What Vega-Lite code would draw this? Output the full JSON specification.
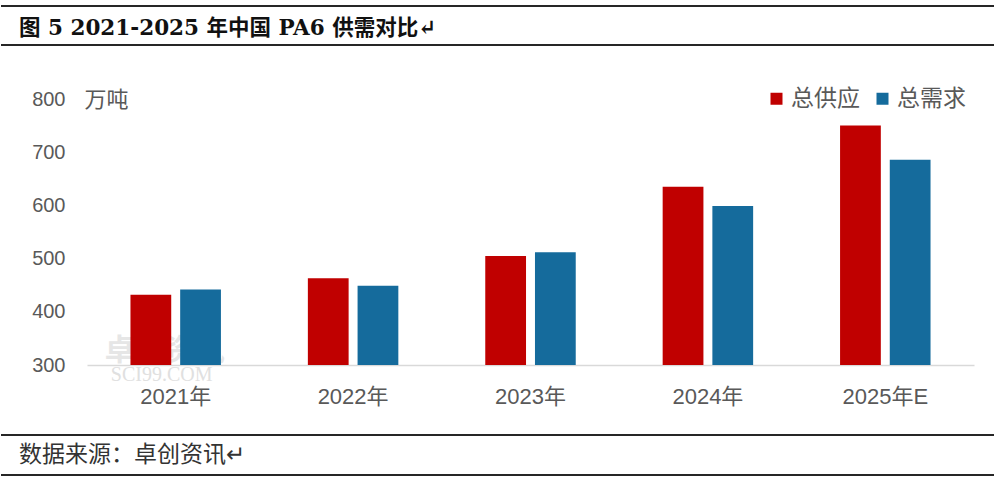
{
  "$schema": "https://vega.github.io/schema/vega-lite/v6.json",
  "padding": {"top": 5, "left": 0, "right": 0, "bottom": 0},
  "spacing": 27,
  "bounds": "full",
  "resolve": {"legend": {"color": "independent"}, "scale": {"color": "independent"}},
  "config": {"view": {"stroke": null}, "font": "Liberation Sans, Noto Sans CJK SC"},
  "vconcat": [
    {
      "width": 907,
      "height": 54,
      "data": {"values": [{}]},
      "layer": [
        {
          "mark": {"type": "rule", "color": "#262626", "strokeWidth": 2},
          "encoding": {
            "x": {"datum": 0, "type": "quantitative", "scale": {"domain": [0, 1], "range": [-86, 907]}, "axis": null},
            "x2": {"datum": 1},
            "y": {"datum": 1, "type": "quantitative", "scale": {"domain": [0, 1]}, "axis": null}
          }
        },
        {
          "mark": {"type": "rule", "color": "#262626", "strokeWidth": 2},
          "encoding": {
            "x": {"datum": 0, "type": "quantitative"},
            "x2": {"datum": 1},
            "y": {"datum": 0.28, "type": "quantitative"}
          }
        },
        {
          "mark": {"type": "text", "align": "left", "baseline": "middle", "dx": 18, "fontSize": 21.5, "fontWeight": "bold", "font": "DejaVu Serif, Noto Sans CJK SC", "color": "#111111"},
          "encoding": {
            "x": {"datum": 0, "type": "quantitative"},
            "y": {"datum": 0.57, "type": "quantitative"},
            "text": {"value": "图 5 2021-2025 年中国 PA6 供需对比↵"}
          }
        }
      ]
    },
    {
      "width": 887,
      "height": 266,
      "layer": [
        {
          "data": {"values": [{}]},
          "mark": {"type": "text", "fontSize": 30, "color": "#e6e6e6", "font": "Noto Sans CJK SC", "fontWeight": "bold", "dx": -11},
          "encoding": {
            "x": {"datum": "2021年", "type": "nominal"},
            "y": {"datum": 326, "type": "quantitative"},
            "text": {"value": "卓创资讯"}
          }
        },
        {
          "data": {"values": [{}]},
          "mark": {"type": "text", "fontSize": 20, "color": "#e0e0e0", "font": "Liberation Serif", "dx": -14},
          "encoding": {
            "x": {"datum": "2021年", "type": "nominal"},
            "y": {"datum": 281, "type": "quantitative"},
            "text": {"value": "SCI99.COM"}
          }
        },
        {
          "data": {"values": [
            {"year": "2021年", "series": "总供应", "value": 432},
            {"year": "2021年", "series": "总需求", "value": 442},
            {"year": "2022年", "series": "总供应", "value": 463},
            {"year": "2022年", "series": "总需求", "value": 449},
            {"year": "2023年", "series": "总供应", "value": 505},
            {"year": "2023年", "series": "总需求", "value": 512},
            {"year": "2024年", "series": "总供应", "value": 635},
            {"year": "2024年", "series": "总需求", "value": 599},
            {"year": "2025年E", "series": "总供应", "value": 750},
            {"year": "2025年E", "series": "总需求", "value": 686}
          ]},
          "mark": {"type": "bar"},
          "encoding": {
            "x": {
              "field": "year", "type": "nominal", "sort": null, "title": null,
              "scale": {"paddingInner": 0.49, "paddingOuter": 0.245},
              "axis": {"labelAngle": 0, "labelAlign": "center", "labelFontSize": 22, "labelColor": "#595959", "labelPadding": 31, "ticks": false, "domainColor": "#d9d9d9", "domainWidth": 1.5}
            },
            "xOffset": {"field": "series", "type": "nominal", "sort": ["总供应", "总需求"], "scale": {"paddingInner": 0.18}},
            "y": {
              "field": "value", "type": "quantitative",
              "scale": {"domain": [300, 800], "nice": false, "zero": false},
              "axis": {
                "values": [300, 400, 500, 600, 700, 800],
                "title": "万吨", "titleAngle": 0, "titleAlign": "left", "titleBaseline": "middle", "titleX": -3, "titleY": 0,
                "titleFontSize": 22, "titleFontWeight": "normal", "titleColor": "#595959", "titleFont": "Noto Sans CJK SC",
                "labelFontSize": 20, "labelColor": "#595959", "labelPadding": 22, "ticks": false, "domain": false,
                "gridColor": "#d9d9d9", "gridDash": [7, 5], "gridWidth": 1.2, "minExtent": 86
              }
            },
            "y2": {"datum": 300},
            "color": {
              "field": "series", "type": "nominal",
              "scale": {"domain": ["总供应", "总需求"], "range": ["#C00000", "#156B9C"]},
              "legend": {
                "title": null, "orient": "none", "legendX": 678, "legendY": -12, "direction": "horizontal",
                "symbolType": "square", "symbolSize": 144, "labelFontSize": 23, "labelColor": "#595959",
                "labelFont": "Noto Sans CJK SC", "columnPadding": 11, "labelOffset": 3
              }
            }
          }
        }
      ]
    },
    {
      "width": 907,
      "height": 40,
      "data": {"values": [{}]},
      "layer": [
        {
          "mark": {"type": "rule", "color": "#262626", "strokeWidth": 2},
          "encoding": {
            "x": {"datum": 0, "type": "quantitative", "scale": {"domain": [0, 1], "range": [-86, 907]}, "axis": null},
            "x2": {"datum": 1},
            "y": {"datum": 1, "type": "quantitative", "scale": {"domain": [0, 1]}, "axis": null}
          }
        },
        {
          "mark": {"type": "rule", "color": "#262626", "strokeWidth": 2},
          "encoding": {
            "x": {"datum": 0, "type": "quantitative"},
            "x2": {"datum": 1},
            "y": {"datum": 0, "type": "quantitative"}
          }
        },
        {
          "mark": {"type": "text", "align": "left", "baseline": "middle", "dx": 18, "fontSize": 23, "font": "Noto Sans CJK SC", "color": "#333333"},
          "encoding": {
            "x": {"datum": 0, "type": "quantitative"},
            "y": {"datum": 0.5, "type": "quantitative"},
            "text": {"value": "数据来源：卓创资讯↵"}
          }
        }
      ]
    }
  ]
}
